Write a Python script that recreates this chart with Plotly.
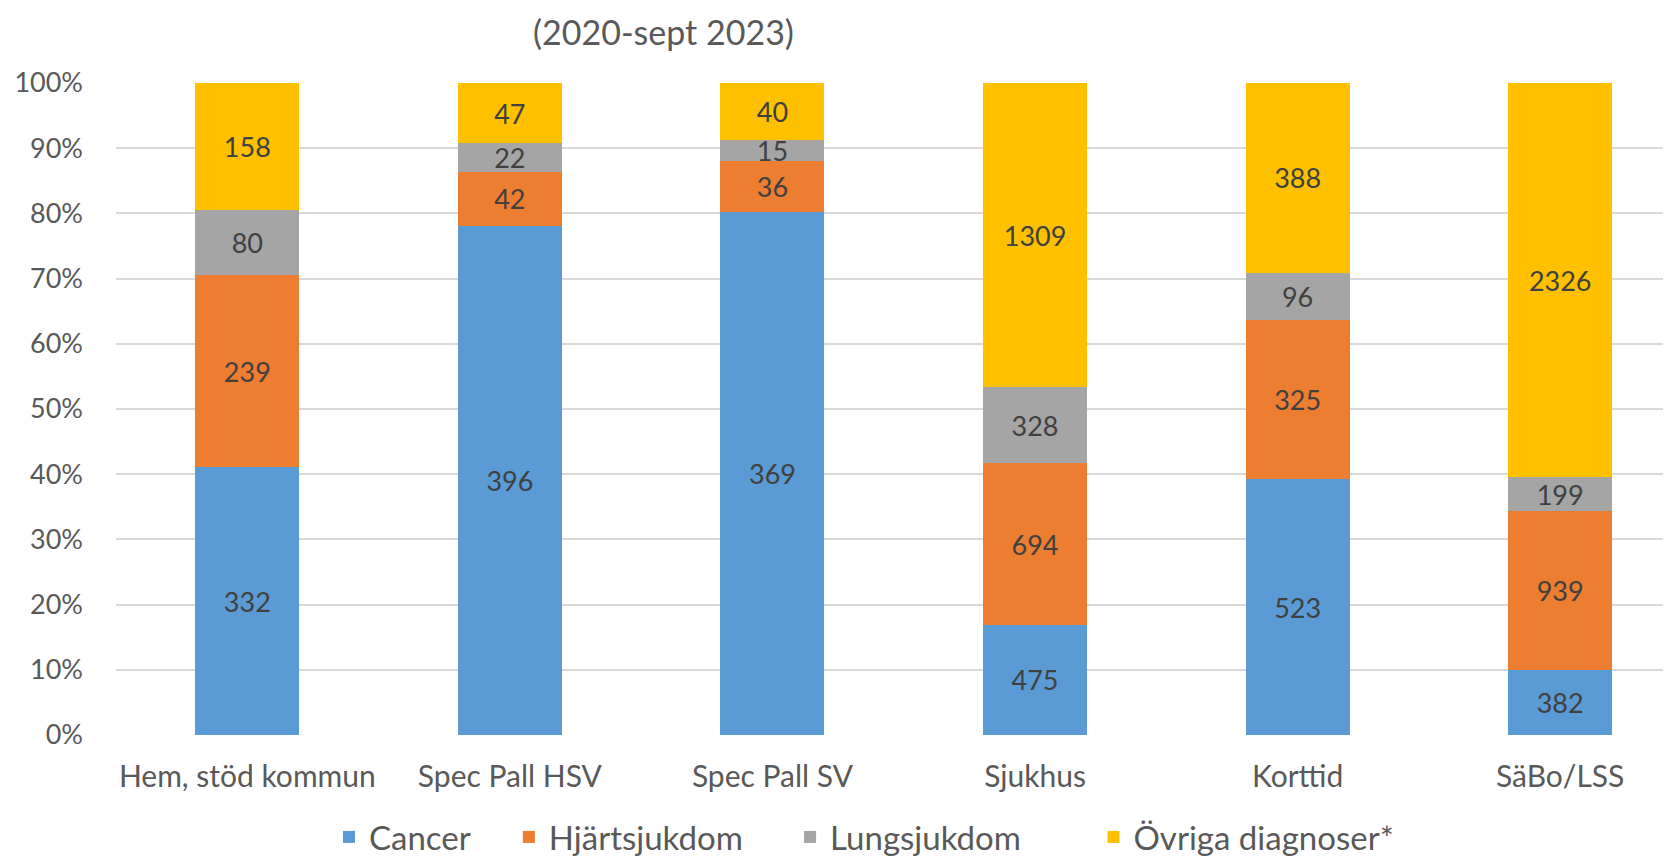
import plotly.graph_objects as go

categories = ["Hem, stöd kommun", "Spec Pall HSV", "Spec Pall SV", "Sjukhus", "Korttid", "SäBo/LSS"]
cancer = [332, 396, 369, 475, 523, 382]
hjart = [239, 42, 36, 694, 325, 939]
lung = [80, 22, 15, 328, 96, 199]
ovriga = [158, 47, 40, 1309, 388, 2326]
series_names = ["Cancer", "Hjärtsjukdom", "Lungsjukdom", "Övriga diagnoser*"]
colors = ["#5B9BD5", "#ED7D31", "#A5A5A5", "#FFC000"]
y_ticks = list(range(0, 101, 10))
y_ticklabels = [f"{v}%" for v in y_ticks]

FONT = "Lato"
PADS = [4, 5, 8, 0]  # legend spacing (non-breaking spaces)
# page body has an 8px default margin; work in figure pixels
OFF = 8
W, H = 1671 - OFF, 859 - OFF
L, T = 116 - OFF, 83 - OFF
BOTTOM = 735 - OFF
B = H - BOTTOM
plot_h = BOTTOM - T
plot_w = W - L

fig = go.Figure()
for name, vals, col, pad in zip(series_names, [cancer, hjart, lung, ovriga], colors, PADS):
    fig.add_trace(go.Bar(
        x=categories, y=vals, name=name + "\u00a0" * pad,
        marker=dict(color=col, line=dict(width=0)),
        text=vals, texttemplate="%{text}", textposition="inside",
        insidetextanchor="middle", textangle=0,
        textfont=dict(family=FONT, size=27, color="#404040"),
        width=0.396,
    ))

fig.update_layout(
    barmode="stack", barnorm="percent",
    width=W, height=H,
    margin=dict(l=L, r=0, t=T, b=B, pad=0, autoexpand=False),
    plot_bgcolor="white", paper_bgcolor="white",
    font=dict(family=FONT, color="#595959"),
    uniformtext=dict(minsize=27, mode="show"),
    showlegend=True,
    legend=dict(orientation="h", x=(864 - OFF - L) / plot_w, xanchor="center",
                y=-(837 - 735) / plot_h, yanchor="middle",
                font=dict(family=FONT, size=33, color="#595959"),
                traceorder="normal"),
    annotations=[dict(text="(2020-sept 2023)",
                      x=(663 - OFF - L) / plot_w, y=1 + (T - 1) / plot_h,
                      xref="paper", yref="paper", xanchor="center", yanchor="top",
                      showarrow=False, font=dict(family=FONT, size=34, color="#595959"))],
)

fig.update_xaxes(type="category", range=[-0.5, 5.422], showgrid=False, showline=False,
                 ticks="", tickfont=dict(family=FONT, size=30, color="#595959"),
                 ticklabelstandoff=21, fixedrange=True, automargin=False)
fig.update_yaxes(range=[0, 100], tickvals=y_ticks, ticktext=y_ticklabels,
                 showgrid=True, gridcolor="#D9D9D9", gridwidth=1.5, zeroline=False,
                 showline=False, ticks="", tickfont=dict(family=FONT, size=27, color="#595959"),
                 ticklabelstandoff=32, automargin=False)

fig.write_html("out.html")
